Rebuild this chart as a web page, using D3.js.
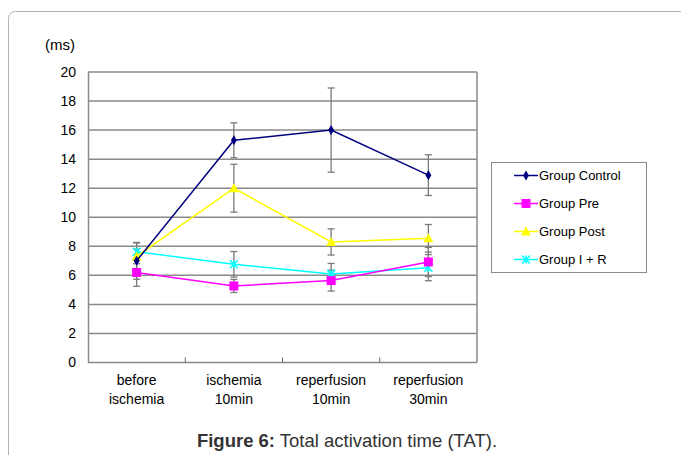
<!DOCTYPE html>
<html>
<head>
<meta charset="utf-8">
<script src="https://cdn.jsdelivr.net/npm/d3@7/dist/d3.min.js"></script>
<style>
  html, body { margin: 0; padding: 0; background: #fff; }
  svg { display: block; font-family: "Liberation Sans", Arial, sans-serif; }
</style>
</head>
<body>
<svg id="chart" width="681" height="455"></svg>
<script>
// Time points (x categories), two-line labels
const categories = ["before ischemia", "ischemia 10min", "reperfusion 10min", "reperfusion 30min"];
const categoryLines = [["before", "ischemia"], ["ischemia", "10min"], ["reperfusion", "10min"], ["reperfusion", "30min"]];

// Series names
const seriesNames = ["Group Control", "Group Pre", "Group Post", "Group I + R"];

// Mean TAT values (ms)
const controlValues = [7.0, 15.3, 16.0, 12.9];
const preValues     = [6.2, 5.27, 5.64, 6.92];
const postValues    = [7.3, 12.0, 8.3, 8.55];
const irValues      = [7.63, 6.76, 6.1, 6.53];

// Error bar half-widths (ms)
const controlErr = [1.27, 1.2, 2.9, 1.4];
const preErr     = [0.95, 0.45, 0.72, 1.0];
const postErr    = [0.5, 1.65, 0.9, 0.95];
const irErr      = [0.6, 0.88, 0.72, 0.9];

// Y axis ticks
const yTicks = [0, 2, 4, 6, 8, 10, 12, 14, 16, 18, 20];

const seriesColors = ["#000080", "#ff00ff", "#ffff00", "#00ffff"];
const seriesMarkers = ["diamond", "square", "triangle", "star"];

const series = seriesNames.map((name, i) => ({
  name,
  values: [controlValues, preValues, postValues, irValues][i],
  err: [controlErr, preErr, postErr, irErr][i],
  color: seriesColors[i],
  marker: seriesMarkers[i]
}));

const svg = d3.select("#chart");

// Outer rounded panel
svg.append("rect")
  .attr("x", 8.5).attr("y", 11.5)
  .attr("width", 700).attr("height", 480)
  .attr("rx", 7).attr("ry", 7)
  .attr("fill", "none")
  .attr("stroke", "#b4b4b4")
  .attr("stroke-width", 1);

const plot = { left: 88, right: 477, top: 72, bottom: 362.5 };

const x = d3.scaleBand()
  .domain(categories)
  .range([plot.left, plot.right])
  .padding(0);

const y = d3.scaleLinear()
  .domain([0, 20])
  .range([plot.bottom, plot.top]);

const gridColor = "#8a8a8a";

// Horizontal gridlines
svg.append("g")
  .selectAll("line")
  .data(yTicks.filter(t => t > 0))
  .join("line")
  .attr("x1", plot.left).attr("x2", plot.right)
  .attr("y1", d => y(d)).attr("y2", d => y(d))
  .attr("stroke", gridColor)
  .attr("stroke-width", 1.5);

// Right border
svg.append("line")
  .attr("x1", plot.right).attr("x2", plot.right)
  .attr("y1", plot.top).attr("y2", plot.bottom)
  .attr("stroke", gridColor).attr("stroke-width", 1.5);

// Y axis
const yAxis = d3.axisLeft(y).tickValues(yTicks).tickSize(0).tickPadding(12);
const yg = svg.append("g")
  .attr("transform", `translate(${plot.left},0)`)
  .call(yAxis);
yg.select(".domain").attr("stroke", gridColor).attr("stroke-width", 1.5);
yg.selectAll("text")
  .attr("font-size", 14)
  .attr("fill", "#000")
  .attr("font-family", "Liberation Sans, Arial, sans-serif");

// X axis line with inner ticks at category boundaries
svg.append("line")
  .attr("x1", plot.left).attr("x2", plot.right)
  .attr("y1", plot.bottom).attr("y2", plot.bottom)
  .attr("stroke", gridColor).attr("stroke-width", 1.5);

svg.append("g")
  .selectAll("line")
  .data(categories.slice(1))
  .join("line")
  .attr("x1", d => x(d)).attr("x2", d => x(d))
  .attr("y1", plot.bottom).attr("y2", plot.bottom - 5)
  .attr("stroke", "#666").attr("stroke-width", 1);

// X category labels
const xl = svg.append("g");
categories.forEach((c, i) => {
  const cx = x(c) + x.bandwidth() / 2;
  categoryLines[i].forEach((line, j) => {
    xl.append("text")
      .attr("x", cx)
      .attr("y", 385 + j * 19)
      .attr("text-anchor", "middle")
      .attr("font-size", 14)
      .attr("fill", "#000")
      .text(line);
  });
});

// Unit label
svg.append("text")
  .attr("x", 45).attr("y", 50)
  .attr("font-size", 15)
  .attr("fill", "#000")
  .text("(ms)");

const cxOf = i => x(categories[i]) + x.bandwidth() / 2;

// Error bars
const eg = svg.append("g");
series.forEach(s => {
  s.values.forEach((v, i) => {
    const cx = cxOf(i);
    const hi = y(v + s.err[i]);
    const lo = y(v - s.err[i]);
    eg.append("line")
      .attr("x1", cx).attr("x2", cx).attr("y1", hi).attr("y2", lo)
      .attr("stroke", "#7a7a7a").attr("stroke-width", 1.3);
    [hi, lo].forEach(yy => {
      eg.append("line")
        .attr("x1", cx - 3.5).attr("x2", cx + 3.5).attr("y1", yy).attr("y2", yy)
        .attr("stroke", "#7a7a7a").attr("stroke-width", 1.3);
    });
  });
});

// Marker drawing
function drawMarker(g, type, cx, cy, color) {
  if (type === "diamond") {
    g.append("path")
      .attr("d", d3.symbol().type(d3.symbolDiamond).size(30)())
      .attr("transform", `translate(${cx},${cy})`)
      .attr("fill", color);
  } else if (type === "square") {
    g.append("rect")
      .attr("x", cx - 4.5).attr("y", cy - 4.5)
      .attr("width", 9).attr("height", 9)
      .attr("fill", color);
  } else if (type === "triangle") {
    g.append("path")
      .attr("d", `M${cx},${cy - 5}L${cx + 5},${cy + 4}L${cx - 5},${cy + 4}Z`)
      .attr("fill", color);
  } else if (type === "star") {
    const r = 4;
    g.append("path")
      .attr("d", `M${cx - r},${cy - r}L${cx + r},${cy + r}M${cx - r},${cy + r}L${cx + r},${cy - r}M${cx},${cy - r}L${cx},${cy + r}`)
      .attr("stroke", color).attr("stroke-width", 1.5).attr("fill", "none");
  }
}

// Lines and markers
const line = d3.line().x((d, i) => cxOf(i)).y(d => y(d));
const sg = svg.append("g");
// draw in order so Control is on top
[3, 2, 1, 0].forEach(k => {
  const s = series[k];
  sg.append("path")
    .attr("d", line(s.values))
    .attr("fill", "none")
    .attr("stroke", s.color)
    .attr("stroke-width", 1.5);
  s.values.forEach((v, i) => drawMarker(sg, s.marker, cxOf(i), y(v), s.color));
});

// Legend
const lg = svg.append("g");
lg.append("rect")
  .attr("x", 491.5).attr("y", 162.5)
  .attr("width", 155).attr("height", 110)
  .attr("fill", "#fff")
  .attr("stroke", "#8a8a8a").attr("stroke-width", 1);
series.forEach((s, i) => {
  const ly = 175.5 + i * 28;
  lg.append("line")
    .attr("x1", 514).attr("x2", 538).attr("y1", ly).attr("y2", ly)
    .attr("stroke", s.color).attr("stroke-width", 1.5);
  drawMarker(lg, s.marker, 526, ly, s.color);
  lg.append("text")
    .attr("x", 539).attr("y", ly + 4.5)
    .attr("font-size", 13)
    .attr("fill", "#000")
    .text(s.name);
});

// Caption
const cap = svg.append("text")
  .attr("x", 347).attr("y", 447)
  .attr("text-anchor", "middle")
  .attr("font-size", 18.5)
  .attr("fill", "#333");
cap.append("tspan").attr("font-weight", "bold").text("Figure 6:");
cap.append("tspan").text(" Total activation time (TAT).");
</script>
</body>
</html>
